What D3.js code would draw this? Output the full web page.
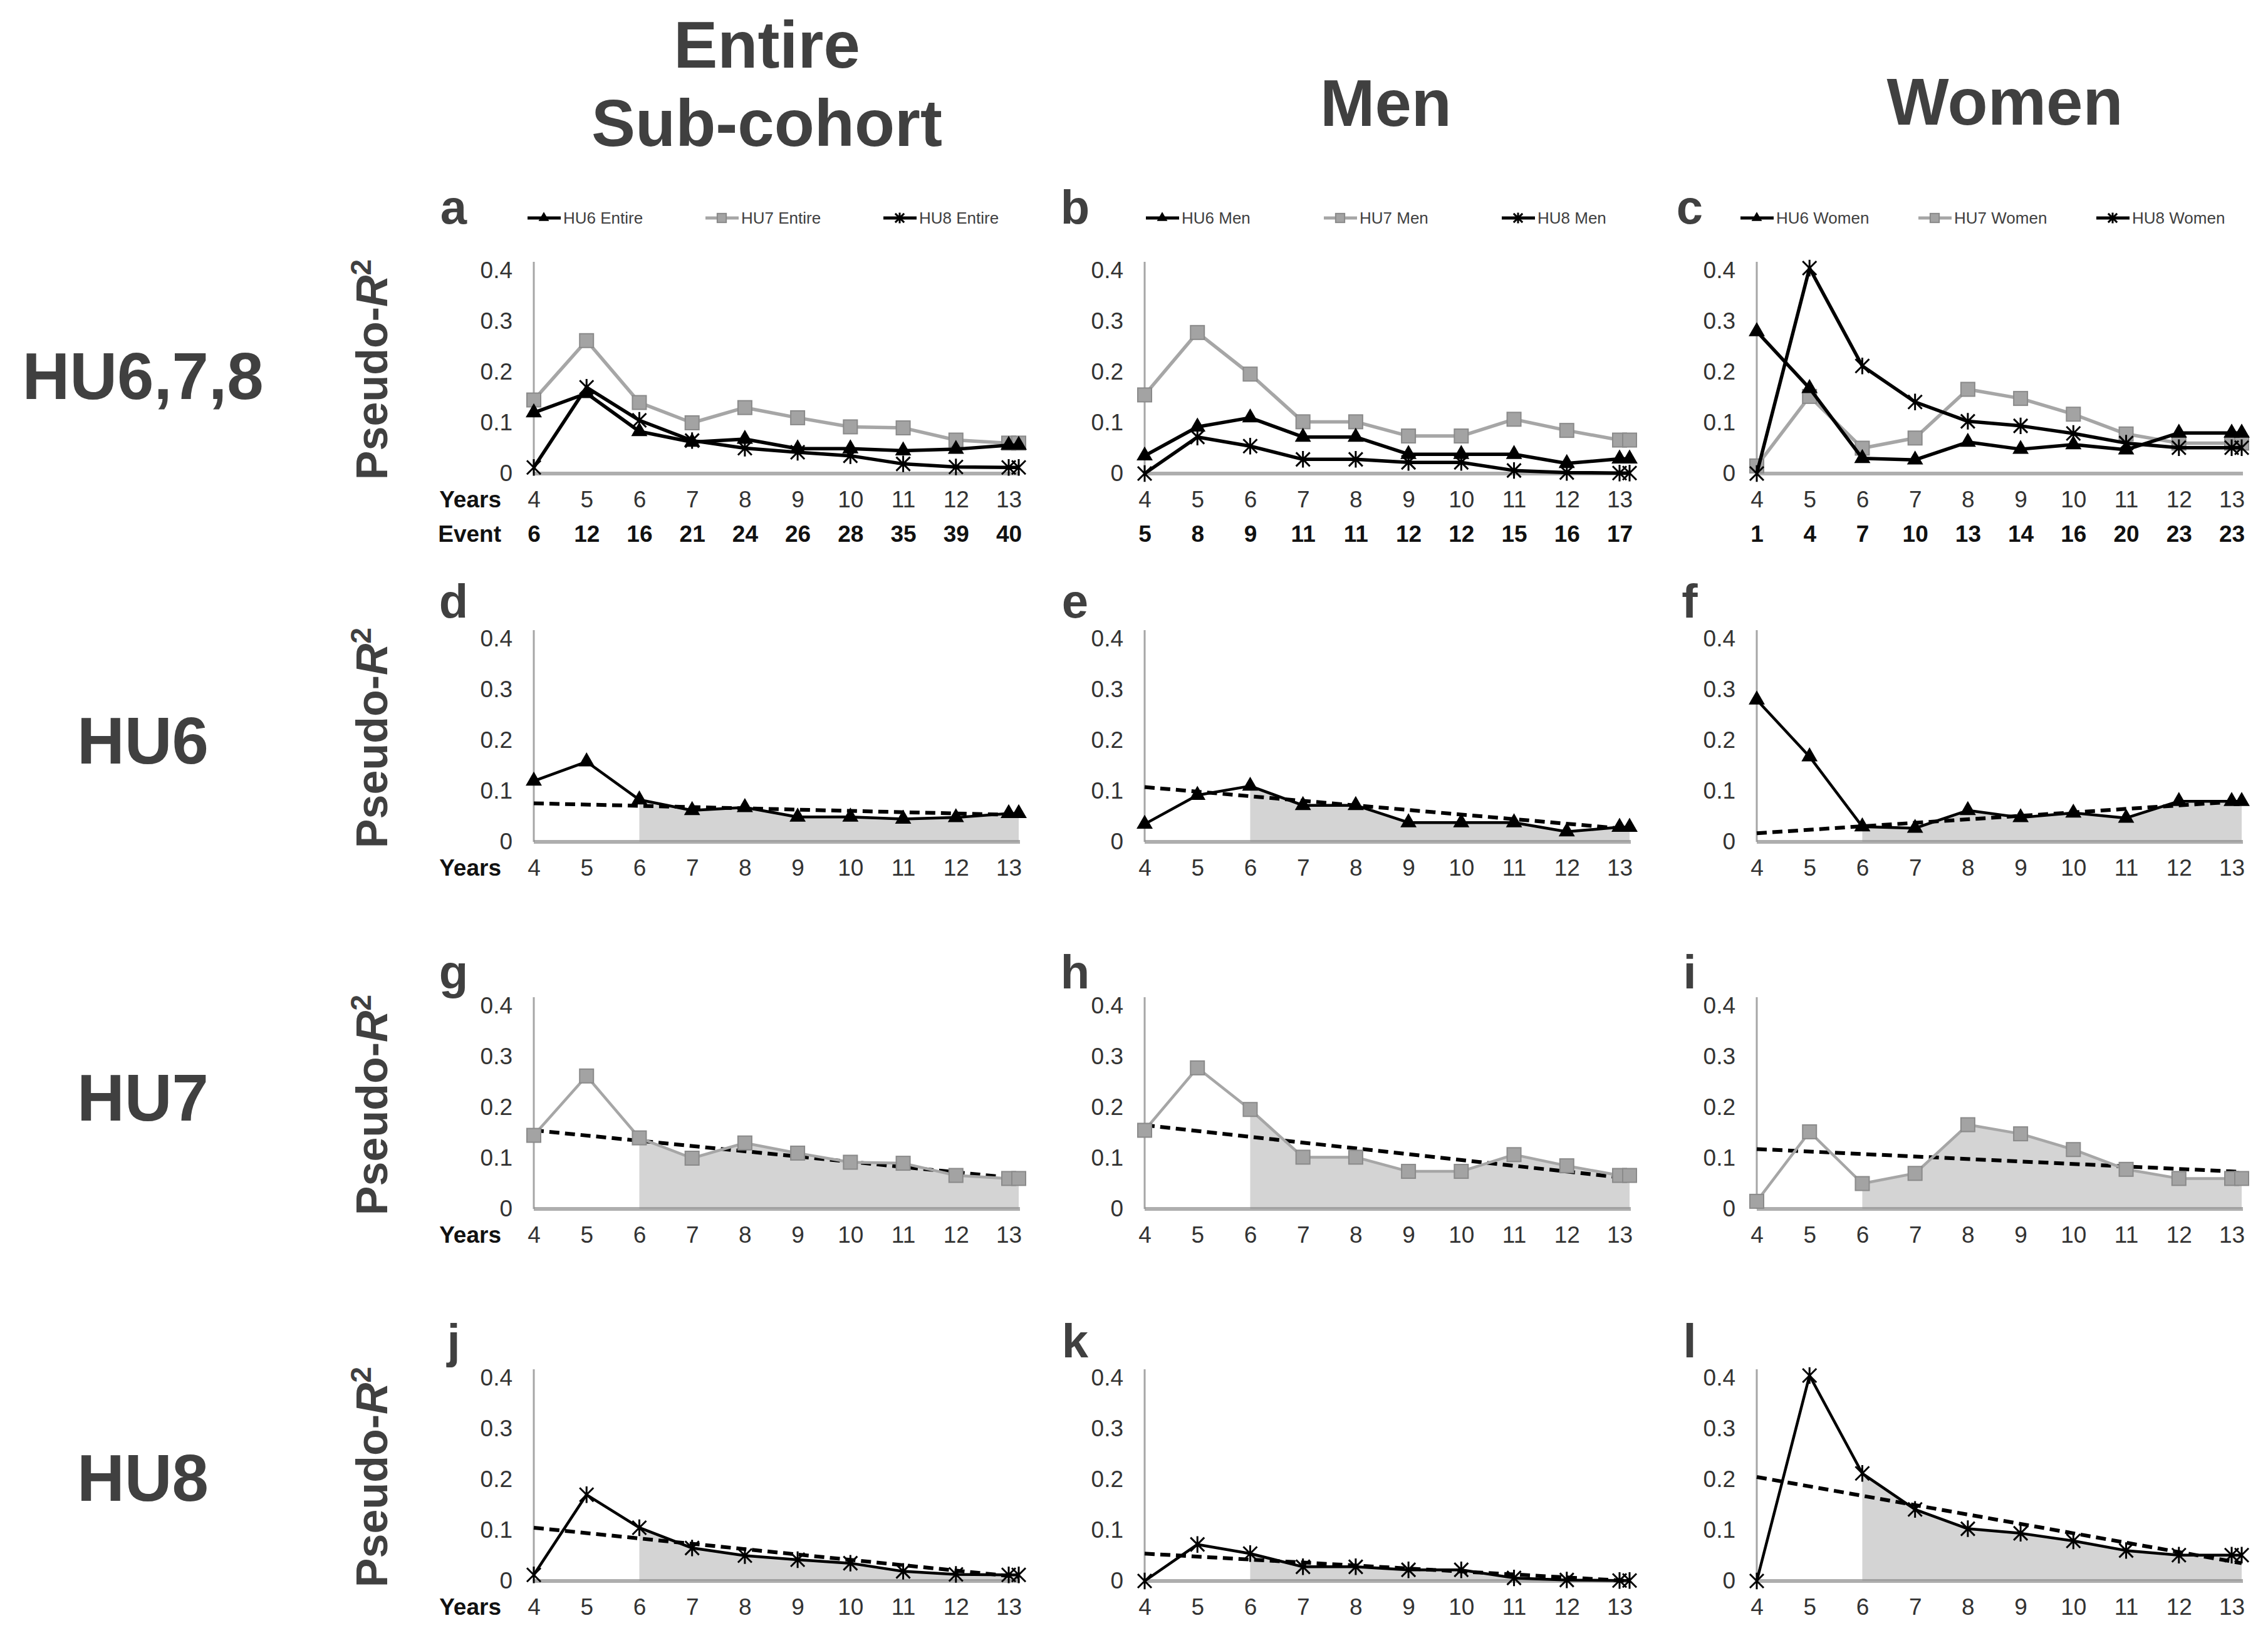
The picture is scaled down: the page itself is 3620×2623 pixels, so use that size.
<!DOCTYPE html>
<html>
<head>
<meta charset="utf-8">
<script src="https://cdn.jsdelivr.net/npm/d3@7"></script>
<style>
  body { margin: 0; background: #fff; }
  text { font-family: "Liberation Sans", Arial, sans-serif; }
</style>
</head>
<body>
<div id="chart"></div>
<script>
// ---- data ----
var years = [4, 5, 6, 7, 8, 9, 10, 11, 12, 13];
var yTicks = [0, 0.1, 0.2, 0.3, 0.4];
var groups = ['Entire', 'Men', 'Women'];
var rowNames = ['HU6,7,8', 'HU6', 'HU7', 'HU8'];
var panelLetters = ['a', 'b', 'c', 'd', 'e', 'f', 'g', 'h', 'i', 'j', 'k', 'l'];

var eventsEntire = [6, 12, 16, 21, 24, 26, 28, 35, 39, 40];
var eventsMen = [5, 8, 9, 11, 11, 12, 12, 15, 16, 17];
var eventsWomen = [1, 4, 7, 10, 13, 14, 16, 20, 23, 23];

var hu6Entire = [0.12, 0.158, 0.083, 0.062, 0.068, 0.049, 0.049, 0.045, 0.048, 0.056];
var hu7Entire = [0.145, 0.262, 0.14, 0.1, 0.13, 0.11, 0.092, 0.09, 0.066, 0.06];
var hu8Entire = [0.012, 0.17, 0.105, 0.065, 0.05, 0.042, 0.035, 0.019, 0.013, 0.012];

var hu6Men = [0.035, 0.092, 0.11, 0.072, 0.072, 0.038, 0.038, 0.038, 0.02, 0.029];
var hu7Men = [0.155, 0.278, 0.196, 0.102, 0.102, 0.074, 0.074, 0.107, 0.085, 0.066];
var hu8Men = [0.0, 0.072, 0.054, 0.028, 0.028, 0.022, 0.022, 0.006, 0.002, 0.001];

var hu6Women = [0.28, 0.168, 0.03, 0.027, 0.062, 0.048, 0.057, 0.047, 0.08, 0.08];
var hu7Women = [0.015, 0.152, 0.05, 0.07, 0.166, 0.148, 0.117, 0.078, 0.06, 0.06];
var hu8Women = [0.0, 0.405, 0.212, 0.141, 0.103, 0.094, 0.079, 0.06, 0.051, 0.051];

// dashed trend lines, value at year 4 and at year 13 (entire, men, women)
var trendHU6 = [[0.076, 0.053], [0.108, 0.025], [0.017, 0.080]];
var trendHU7 = [[0.155, 0.060], [0.165, 0.060], [0.118, 0.073]];
var trendHU8 = [[0.105, 0.008], [0.054, 0.000], [0.205, 0.035]];

var shadeFrom = 6;

// ---- layout ----
var W = 3620, H = 2623;
var colX = [852, 1827, 2804];
var rowY = [756, 1344, 1930, 2524];
var plotW = 758, plotH = 324, echo = 16;
var dark = '#404040';

var svg = d3.select('#chart').append('svg')
            .attr('width', W).attr('height', H);

var series = {
  hu6: [hu6Entire, hu6Men, hu6Women],
  hu7: [hu7Entire, hu7Men, hu7Women],
  hu8: [hu8Entire, hu8Men, hu8Women]
};
var trends = { hu6: trendHU6, hu7: trendHU7, hu8: trendHU8 };
var events = [eventsEntire, eventsMen, eventsWomen];
var style = {
  hu6: { stroke: '#000', marker: 'triangle' },
  hu7: { stroke: '#a6a6a6', marker: 'square' },
  hu8: { stroke: '#000', marker: 'star' }
};

var marker = function(g, type, cx, cy, k){
  k = k || 1;
  if (type === 'triangle') {
    g.append('path')
     .attr('d', d3.symbol(d3.symbolTriangle, 290 * k * k)())
     .attr('transform', 'translate(' + cx + ',' + cy + ')')
     .attr('fill', '#000');
  } else if (type === 'square') {
    var s = 22 * k;
    g.append('rect')
     .attr('x', cx - s / 2).attr('y', cy - s / 2)
     .attr('width', s).attr('height', s)
     .attr('fill', '#a3a3a3').attr('stroke', '#8a8a8a').attr('stroke-width', 2);
  } else {
    var r = 11 * k;
    g.append('path')
     .attr('d', 'M' + (-r) + ',' + (-r) + 'L' + r + ',' + r +
                'M' + (-r) + ',' + r + 'L' + r + ',' + (-r) +
                'M0,' + (-r * 1.2) + 'L0,' + (r * 1.2))
     .attr('transform', 'translate(' + cx + ',' + cy + ')')
     .attr('stroke', '#000').attr('stroke-width', 3).attr('fill', 'none');
  }
};

var drawPanel = function(row, col){
  var x0 = colX[col], y0 = rowY[row];
  var x = d3.scaleLinear().domain([4, 13]).range([x0, x0 + plotW]);
  var y = d3.scaleLinear().domain([0, 0.4]).range([y0, y0 - plotH]);
  var g = svg.append('g');
  var keys = row === 0 ? ['hu7', 'hu6', 'hu8'] : [['hu6', 'hu7', 'hu8'][row - 1]];

  var pts = function(vals){
    var p = years.map(function(yr, i){ return { px: x(yr), v: vals[i], yr: yr }; });
    p.push({ px: x(13) + echo, v: vals[vals.length - 1], yr: 13 });
    return p;
  };

  // shaded area
  if (row > 0) {
    var sp = pts(series[keys[0]][col]).filter(function(d){ return d.yr >= shadeFrom; });
    g.append('path').datum(sp)
     .attr('d', d3.area().x(function(d){ return d.px; })
                 .y0(y(0)).y1(function(d){ return y(d.v); }))
     .attr('fill', '#d4d4d4');
  }

  // axes lines
  g.append('line')
   .attr('x1', x0).attr('x2', x0)
   .attr('y1', y0).attr('y2', y(0.4) - 14)
   .attr('stroke', '#a6a6a6').attr('stroke-width', 3);
  g.append('line')
   .attr('x1', x0).attr('x2', x(13) + echo + 2)
   .attr('y1', y0).attr('y2', y0)
   .attr('stroke', '#8c8c8c').attr('stroke-opacity', 0.7).attr('stroke-width', 6);

  // y axis labels
  var ya = g.append('g').attr('transform', 'translate(' + x0 + ',0)')
            .call(d3.axisLeft(y).tickValues(yTicks).tickSize(0).tickPadding(34)
                    .tickFormat(function(d){ return d === 0 ? '0' : d.toFixed(1); }));
  ya.select('.domain').remove();
  ya.selectAll('text').attr('font-size', 37).attr('fill', '#333')
    .attr('font-family', '"Liberation Sans", Arial, sans-serif');

  // x axis labels
  var xa = g.append('g').attr('transform', 'translate(0,' + y0 + ')')
            .call(d3.axisBottom(x).tickValues(years).tickSize(0).tickPadding(28)
                    .tickFormat(d3.format('d')));
  xa.select('.domain').remove();
  xa.selectAll('text').attr('font-size', 37).attr('fill', '#333')
    .attr('font-family', '"Liberation Sans", Arial, sans-serif');

  if (row === 0) {
    var ev = g.append('g').attr('transform', 'translate(0,' + y0 + ')')
              .call(d3.axisBottom(x).tickValues(years).tickSize(0).tickPadding(83)
                      .tickFormat(function(d, i){ return events[col][i]; }));
    ev.select('.domain').remove();
    ev.selectAll('text').attr('font-size', 37).attr('font-weight', 'bold').attr('fill', '#111')
      .attr('font-family', '"Liberation Sans", Arial, sans-serif');
  }
  if (col === 0) {
    g.append('text').attr('x', x0 - 52).attr('y', y0 + 54)
     .attr('text-anchor', 'end').attr('font-size', 37).attr('font-weight', 'bold')
     .attr('fill', '#111').text('Years');
    if (row === 0) {
      g.append('text').attr('x', x0 - 52).attr('y', y0 + 109)
       .attr('text-anchor', 'end').attr('font-size', 37).attr('font-weight', 'bold')
       .attr('fill', '#111').text('Event');
    }
  }

  // trend line
  if (row > 0) {
    var tr = trends[keys[0]][col];
    g.append('line')
     .attr('x1', x(4)).attr('y1', y(tr[0]))
     .attr('x2', x(13) + echo).attr('y2', y(tr[1]))
     .attr('stroke', '#000').attr('stroke-width', 6).attr('stroke-dasharray', '16 9');
  }

  // series lines + markers
  keys.forEach(function(key){
    var p = pts(series[key][col]);
    g.append('path').datum(p)
     .attr('d', d3.line().x(function(d){ return d.px; }).y(function(d){ return y(d.v); }))
     .attr('fill', 'none').attr('stroke', style[key].stroke)
     .attr('stroke-width', row === 0 ? 5.5 : 4.5).attr('stroke-linejoin', 'round');
    p.forEach(function(d){ marker(g, style[key].marker, d.px, y(d.v)); });
  });

  // panel letter
  var letterX = [724, 1716, 2697];
  var letterDy = [-399, -358, -352, -357];
  g.append('text').attr('x', letterX[col]).attr('y', y0 + letterDy[row])
   .attr('text-anchor', 'middle').attr('font-size', 76).attr('font-weight', 'bold')
   .attr('fill', dark).text(panelLetters[row * 3 + col]);

  // legend
  if (row === 0) {
    var legStart = [-10, 2, -26];
    var ly = y0 - 408;
    ['hu6', 'hu7', 'hu8'].forEach(function(key, i){
      var lx = x0 + legStart[col] + i * 284;
      g.append('line').attr('x1', lx).attr('x2', lx + 53)
       .attr('y1', ly).attr('y2', ly)
       .attr('stroke', style[key].stroke).attr('stroke-width', 5);
      marker(g, style[key].marker, lx + 26, ly, 0.65);
      g.append('text').attr('x', lx + 57).attr('y', ly + 9)
       .attr('font-size', 26).attr('fill', dark)
       .text(key.toUpperCase() + ' ' + groups[col]);
    });
  }

  // y label
  if (col === 0) {
    var t = g.append('text')
             .attr('transform', 'translate(618,' + (y0 - 166) + ') rotate(-90)')
             .attr('text-anchor', 'middle').attr('font-size', 70)
             .attr('font-weight', 'bold').attr('fill', dark);
    t.append('tspan').text('Pseudo-');
    t.append('tspan').attr('font-style', 'italic').text('R');
    t.append('tspan').attr('font-size', 46).attr('dy', -26).text('2');
  }
};

for (var r = 0; r < 4; r++) {
  for (var c = 0; c < 3; c++) { drawPanel(r, c); }
}

// column titles
var titles = [
  { x: 1224, lines: [['Entire', 108], ['Sub-cohort', 233]] },
  { x: 2212, lines: [['Men', 201]] },
  { x: 3200, lines: [['Women', 199]] }
];
titles.forEach(function(t){
  t.lines.forEach(function(l){
    svg.append('text').attr('x', t.x).attr('y', l[1])
       .attr('text-anchor', 'middle').attr('font-size', 105)
       .attr('font-weight', 'bold').attr('fill', dark).text(l[0]);
  });
});

// row titles
var rowLabelY = [637, 1219, 1789, 2396];
rowNames.forEach(function(n, i){
  svg.append('text').attr('x', 228).attr('y', rowLabelY[i])
     .attr('text-anchor', 'middle').attr('font-size', 105)
     .attr('font-weight', 'bold').attr('fill', dark).text(n);
});
</script>
</body>
</html>
